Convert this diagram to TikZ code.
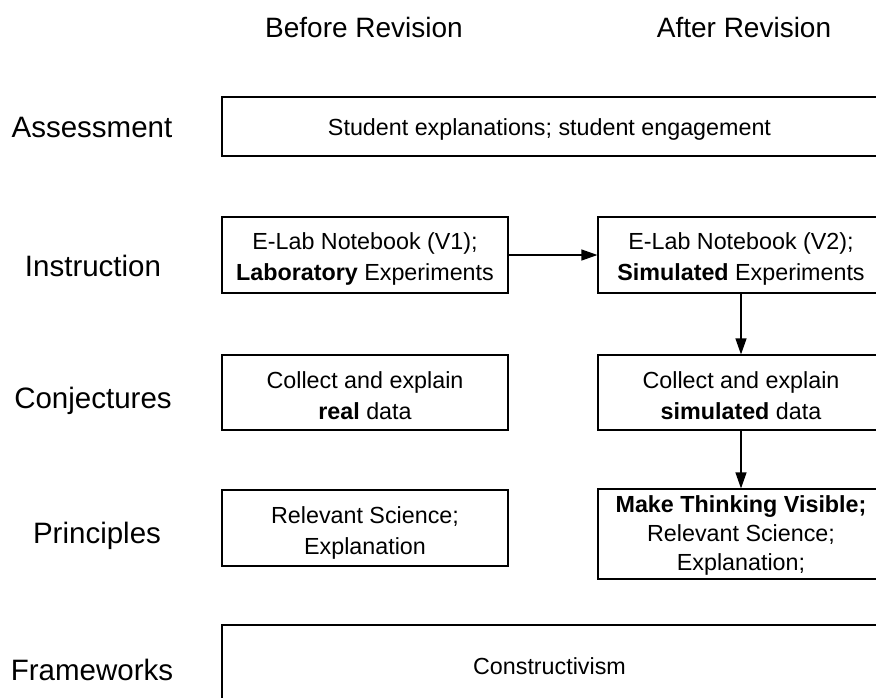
\documentclass[tikz,border=0pt]{standalone}
\usepackage{fontspec}
\setmainfont{Liberation Sans}
\usetikzlibrary{arrows.meta}
\begin{document}
\begin{tikzpicture}[x=1pt,y=-1pt,
  box/.style={draw, line width=1.2pt, inner sep=0pt,
    minimum width=286pt, minimum height=76pt},
  widebox/.style={box, minimum width=655pt},
  txt/.style={inner sep=0pt, align=center, font=\fontsize{23.3}{31}\selectfont},
  rowlabel/.style={font=\fontsize{29.5}{34}\selectfont, anchor=center},
  header/.style={font=\fontsize{28}{34}\selectfont, anchor=center},
  conn/.style={line width=1.2pt, -{Triangle[length=16pt,width=11pt]}}]
\useasboundingbox (0,0) rectangle (876,697);
\clip (0,0) rectangle (876,697);
\fill[white] (0,0) rectangle (876,697);
% headers
\node[header] (hb) at (364,27) {Before Revision};
\node[header] (ha) at (744,27) {After Revision};
% row labels
\node[rowlabel] (la) at (92,127) {Assessment};
\node[rowlabel] (li) at (93,266) {Instruction};
\node[rowlabel] (lc) at (93,401) {Conjectures};
\node[rowlabel] (lp) at (97,536) {Principles};
\node[rowlabel] (lf) at (92,670) {Frameworks};
% boxes
\node[widebox, minimum height=59pt] (assess) at (549.5,126.5) {};
\node[box] (instL) at (365,255) {};
\node[box] (instR) at (741,255) {};
\node[box, minimum height=75pt] (conjL) at (365,392.5) {};
\node[box, minimum height=75pt] (conjR) at (741,392.5) {};
\node[box] (prinL) at (365,528) {};
\node[box, minimum height=90pt] (prinR) at (741,534) {};
\node[widebox, minimum height=78pt] (frame) at (549.5,664) {};
% box texts
\node[txt] (assessT) at (549.5,129.5) {Student explanations; student engagement};
\node[txt] (instLT) at (365,259) {E-Lab Notebook (V1);\\\textbf{Laboratory} Experiments};
\node[txt] (instRT) at (741,259) {E-Lab Notebook (V2);\\\textbf{Simulated} Experiments};
\node[txt] (conjLT) at (365,396) {Collect and explain\\\textbf{real} data};
\node[txt] (conjRT) at (741,396) {Collect and explain\\\textbf{simulated} data};
\node[txt] (prinLT) at (365,532.5) {Relevant Science;\\Explanation};
\node[txt, font=\fontsize{23.3}{29}\selectfont] (prinRT) at (741,535) {\textbf{Make Thinking Visible;}\\Relevant Science;\\Explanation;};
\node[txt] (frameT) at (549.5,666) {Constructivism};
% connectors
\draw[conn] (instL.east) -- (instR.west);
\draw[conn] (instR.south) -- (conjR.north);
\draw[conn] (conjR.south) -- (prinR.north);
\end{tikzpicture}
\end{document}
